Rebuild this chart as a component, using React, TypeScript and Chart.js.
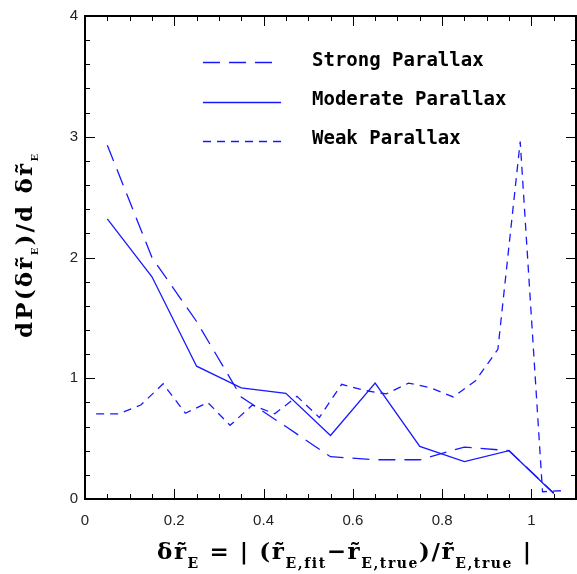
import { useEffect, useRef } from "react";
import { Chart, registerables } from "chart.js";

Chart.register(...registerables);

// ---------- data ----------
const seriesNames = ["Strong Parallax", "Moderate Parallax", "Weak Parallax"];

const strongX = [0.05, 0.15, 0.25, 0.35, 0.45, 0.55, 0.65, 0.75, 0.85, 0.95, 1.05];
const strongY = [2.93, 2.0, 1.47, 0.845, 0.6, 0.35, 0.325, 0.325, 0.43, 0.4, 0.05];

const moderateX = [0.05, 0.15, 0.25, 0.35, 0.45, 0.55, 0.65, 0.75, 0.85, 0.95, 1.05];
const moderateY = [2.32, 1.84, 1.1, 0.92, 0.875, 0.526, 0.96, 0.436, 0.31, 0.4, 0.045];

const weakX = [
  0.025, 0.075, 0.125, 0.175, 0.225, 0.275, 0.325, 0.375, 0.425, 0.475, 0.525,
  0.575, 0.625, 0.675, 0.725, 0.775, 0.825, 0.875, 0.925, 0.975, 1.025, 1.075,
];
const weakY = [
  0.705, 0.705, 0.778, 0.954, 0.71, 0.8, 0.61, 0.778, 0.705, 0.85, 0.675,
  0.95, 0.9, 0.87, 0.96, 0.92, 0.845, 0.98, 1.24, 2.96, 0.06, 0.07,
];

const xMin = 0;
const xMax = 1.1;
const xStep = 0.2;
const yMin = 0;
const yMax = 4;
const yStep = 1;

const LINE_COLOR = "rgb(25,25,255)";
const dashes = [[17, 9], [], [8, 6]];

type Seg = { t: string; sub?: boolean };

const xTitle: Seg[] = [
  { t: "δr\u0303" },
  { t: "E", sub: true },
  { t: " = | (r\u0303" },
  { t: "E,fit", sub: true },
  { t: "−r\u0303" },
  { t: "E,true", sub: true },
  { t: ")/r\u0303" },
  { t: "E,true", sub: true },
  { t: " |" },
];

const yTitle: Seg[] = [
  { t: "dP(δr\u0303" },
  { t: "E", sub: true },
  { t: ")/d δr\u0303" },
  { t: "E", sub: true },
];

function units(segs: Seg[]) {
  const out: { t: string; sub: boolean }[] = [];
  for (const s of segs) {
    for (const ch of Array.from(s.t)) {
      if (/[\u0300-\u036f]/.test(ch) && out.length) {
        out[out.length - 1].t += ch;
      } else {
        out.push({ t: ch, sub: !!s.sub });
      }
    }
  }
  return out;
}

function drawRich(
  ctx: CanvasRenderingContext2D,
  segs: Seg[],
  cx: number,
  baseY: number,
  target: number,
  mainFont: string,
  subFont: string,
  subDy: number
) {
  const us = units(segs);
  const widths = us.map((u) => {
    ctx.font = u.sub ? subFont : mainFont;
    return ctx.measureText(u.t).width;
  });
  const natural = widths.reduce((a, b) => a + b, 0);
  const gap = Math.max(0, (target - natural) / (us.length - 1));
  let x = cx - (natural + gap * (us.length - 1)) / 2;
  ctx.textAlign = "left";
  ctx.textBaseline = "alphabetic";
  us.forEach((u, i) => {
    ctx.font = u.sub ? subFont : mainFont;
    ctx.fillText(u.t, x, u.sub ? baseY + subDy : baseY);
    x += widths[i] + gap;
  });
}

const framePlugin = {
  id: "frameTicks",
  afterDraw(chart: any) {
    const { ctx, chartArea } = chart;
    const { left, right, top, bottom } = chartArea;
    const xs = chart.scales.x;
    const ys = chart.scales.y;
    ctx.save();
    ctx.strokeStyle = "#000";
    ctx.lineWidth = 1;
    // x ticks (minor every 0.05, major every 0.2)
    for (let i = 1; i * 0.05 < xMax - 1e-9; i++) {
      const v = i * 0.05;
      const px = Math.round(xs.getPixelForValue(v)) + 0.5;
      const len = i % 4 === 0 ? 10 : 5;
      ctx.beginPath();
      ctx.moveTo(px, bottom);
      ctx.lineTo(px, bottom - len);
      ctx.moveTo(px, top);
      ctx.lineTo(px, top + len);
      ctx.stroke();
    }
    // y ticks (minor every 0.2, major every 1)
    for (let i = 1; i * 0.2 < yMax - 1e-9; i++) {
      const v = i * 0.2;
      const py = Math.round(ys.getPixelForValue(v)) + 0.5;
      const len = i % 5 === 0 ? 10 : 5;
      ctx.beginPath();
      ctx.moveTo(left, py);
      ctx.lineTo(left + len, py);
      ctx.moveTo(right, py);
      ctx.lineTo(right - len, py);
      ctx.stroke();
    }
    ctx.lineWidth = 2;
    ctx.strokeRect(left, top, right - left, bottom - top);
    ctx.restore();
  },
};

const legendPlugin = {
  id: "customLegend",
  afterDatasetsDraw(chart: any) {
    const { ctx } = chart;
    const rows = [
      { ly: 62, ty: 61 },
      { ly: 102, ty: 100 },
      { ly: 141, ty: 139 },
    ];
    ctx.save();
    chart.data.datasets.forEach((ds: any, i: number) => {
      const r = rows[i];
      ctx.strokeStyle = ds.borderColor;
      ctx.lineWidth = ds.borderWidth;
      ctx.setLineDash(ds.borderDash || []);
      ctx.beginPath();
      ctx.moveTo(203, r.ly + 0.5);
      ctx.lineTo(281, r.ly + 0.5);
      ctx.stroke();
      ctx.setLineDash([]);
      ctx.fillStyle = "#000";
      ctx.font = "bold 19px 'DejaVu Sans Mono'";
      ctx.textAlign = "left";
      ctx.textBaseline = "middle";
      ctx.fillText(ds.label, 312, r.ty);
    });
    ctx.restore();
  },
};

const titlesPlugin = {
  id: "axisTitles",
  afterDraw(chart: any) {
    const { ctx } = chart;
    ctx.save();
    ctx.fillStyle = "#000";
    drawRich(
      ctx,
      xTitle,
      344,
      559,
      374,
      "bold 23px 'DejaVu Serif'",
      "bold 14px 'DejaVu Serif'",
      9
    );
    ctx.restore();
    ctx.save();
    ctx.fillStyle = "#000";
    ctx.translate(32, 246);
    ctx.rotate(-Math.PI / 2);
    drawRich(
      ctx,
      yTitle,
      0,
      0,
      184,
      "bold 23px 'DejaVu Serif'",
      "bold 10px 'DejaVu Serif'",
      6
    );
    ctx.restore();
  },
};

export default function App() {
  const ref = useRef<HTMLCanvasElement | null>(null);

  useEffect(() => {
    document.body.style.margin = "0";
    const canvas = ref.current;
    if (!canvas) return;
    const mk = (xs: number[], ys: number[]) => xs.map((x, i) => ({ x, y: ys[i] }));
    const chart = new Chart(canvas, {
      type: "scatter",
      data: {
        datasets: [
          { label: seriesNames[0], data: mk(strongX, strongY) },
          { label: seriesNames[1], data: mk(moderateX, moderateY) },
          { label: seriesNames[2], data: mk(weakX, weakY) },
        ].map((d, i) => ({
          ...d,
          showLine: true,
          borderColor: LINE_COLOR,
          backgroundColor: LINE_COLOR,
          borderWidth: 1.3,
          borderDash: dashes[i],
          pointRadius: 0,
          pointHoverRadius: 0,
          tension: 0,
        })),
      },
      options: {
        animation: false,
        responsive: false,
        events: [],
        layout: { padding: { top: 7, right: 1, left: 0, bottom: 0 } },
        plugins: {
          legend: { display: false },
          tooltip: { enabled: false },
          title: { display: false },
        },
        scales: {
          x: {
            type: "linear",
            min: xMin,
            max: xMax,
            grid: { display: false, drawTicks: false },
            border: { display: false },
            ticks: {
              stepSize: xStep,
              includeBounds: false,
              maxRotation: 0,
              autoSkip: false,
              padding: 13,
              color: "#222",
              font: { family: "'Liberation Sans', Arial, sans-serif", size: 15 },
              callback: (v: any) => String(Math.round(Number(v) * 10) / 10),
            },
            afterFit: (s: any) => {
              s.height = 75;
            },
          },
          y: {
            type: "linear",
            min: yMin,
            max: yMax,
            grid: { display: false, drawTicks: false },
            border: { display: false },
            ticks: {
              stepSize: yStep,
              includeBounds: false,
              padding: 7,
              color: "#222",
              font: { family: "'Liberation Sans', Arial, sans-serif", size: 15 },
            },
            afterFit: (s: any) => {
              s.width = 85;
            },
          },
        },
      },
      plugins: [framePlugin, legendPlugin, titlesPlugin],
    } as any);
    return () => chart.destroy();
  }, []);

  return (
    <div style={{ width: 577, height: 574 }}>
      <canvas ref={ref} width={577} height={574} style={{ display: "block" }} />
    </div>
  );
}
